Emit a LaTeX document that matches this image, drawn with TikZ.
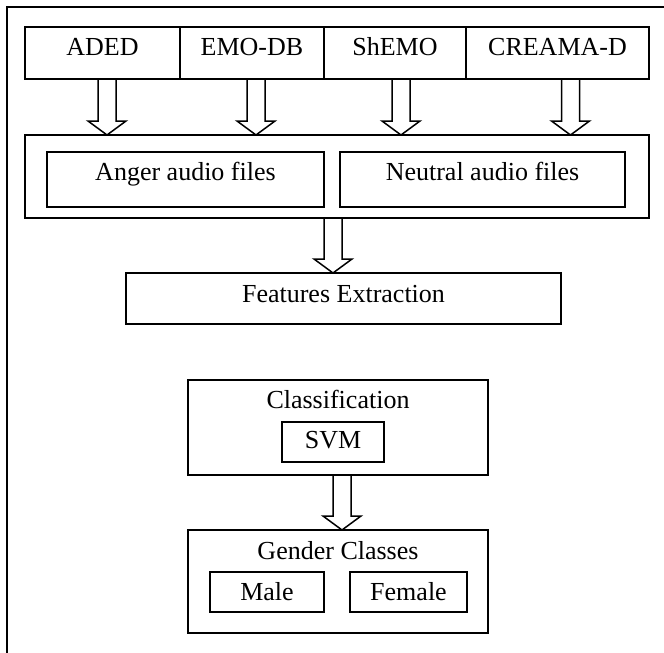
\documentclass[tikz,border=0pt]{standalone}
\usepackage{fontspec}
\setmainfont{Liberation Serif}
\usetikzlibrary{positioning,calc}

\tikzset{
  blk/.style={draw, rectangle, line width=1.5pt, inner sep=0pt, outer sep=0pt, text height=18pt},
  fat/.style={draw, line width=1.5pt},
}
\newcommand{\fatarrow}[2]{%
  \path (#1) coordinate (fa-s) (fa-s |- #2.north) coordinate (fa-e);
  \draw[fat] ($(fa-s)+(-9,0)$) -- ($(fa-e)+(-9,-14)$) -- ($(fa-e)+(-19,-14)$) -- (fa-e)
    -- ($(fa-e)+(19,-14)$) -- ($(fa-e)+(9,-14)$) -- ($(fa-s)+(9,0)$);
}

\begin{document}
\begin{tikzpicture}[x=1pt, y=-1pt, font=\fontsize{26}{30}\selectfont, node distance=0pt]

            \useasboundingbox (0,0) rectangle (664,653);
            \clip (0,0) rectangle (664,653);
            \draw[line width=2pt] (7,7) rectangle (700,700);

            \node[blk, minimum width=155pt, minimum height=52pt, text depth=14pt] (aded) at (102.5,53) {ADED};
            \node[blk, minimum width=144pt, minimum height=52pt, text depth=14pt, right=of aded] (emodb) {EMO-DB};
            \node[blk, minimum width=142pt, minimum height=52pt, text depth=14pt, right=of emodb] (shemo) {ShEMO};
            \node[blk, minimum width=183pt, minimum height=52pt, text depth=14pt, right=of shemo] (cremad) {CREAMA-D};

            \node[blk, minimum width=624pt, minimum height=83pt] (grp) at (337,176.5) {};
            \node[blk, minimum width=277pt, minimum height=55pt, text depth=17pt] (anger) at (185.5,179.5) {Anger audio files};
            \node[blk, minimum width=285pt, minimum height=55pt, text depth=17pt, right=16pt of anger] (neutral) {Neutral audio files};

            \node[blk, minimum width=435pt, minimum height=51pt, text depth=11pt] (fe) at (343.5,298.5) {Features Extraction};

            \node[blk, minimum width=300pt, minimum height=95pt] (cls) at (338,427.5) {};
            \node[anchor=base] (clstitle) at (338,408) {Classification};
            \node[blk, minimum width=102pt, minimum height=40pt, text depth=6pt] (svm) at (333,442) {SVM};

            \node[blk, minimum width=300pt, minimum height=103pt] (gender) at (338,581.5) {};
            \node[anchor=base] (gendertitle) at (338,559) {Gender Classes};
            \node[blk, minimum width=114pt, minimum height=40pt, text depth=2pt] (male) at (267,592) {Male};
            \node[blk, minimum width=117pt, minimum height=40pt, text depth=2pt] (female) at (408.5,592) {Female};

            \fatarrow{[xshift=4.5pt]aded.south}{grp}
            \fatarrow{[xshift=4pt]emodb.south}{grp}
            \fatarrow{[xshift=6pt]shemo.south}{grp}
            \fatarrow{[xshift=13pt]cremad.south}{grp}
            \fatarrow{[xshift=-4pt]grp.south}{fe}
            \fatarrow{[xshift=4pt]cls.south}{gender}

\end{tikzpicture}
\end{document}
